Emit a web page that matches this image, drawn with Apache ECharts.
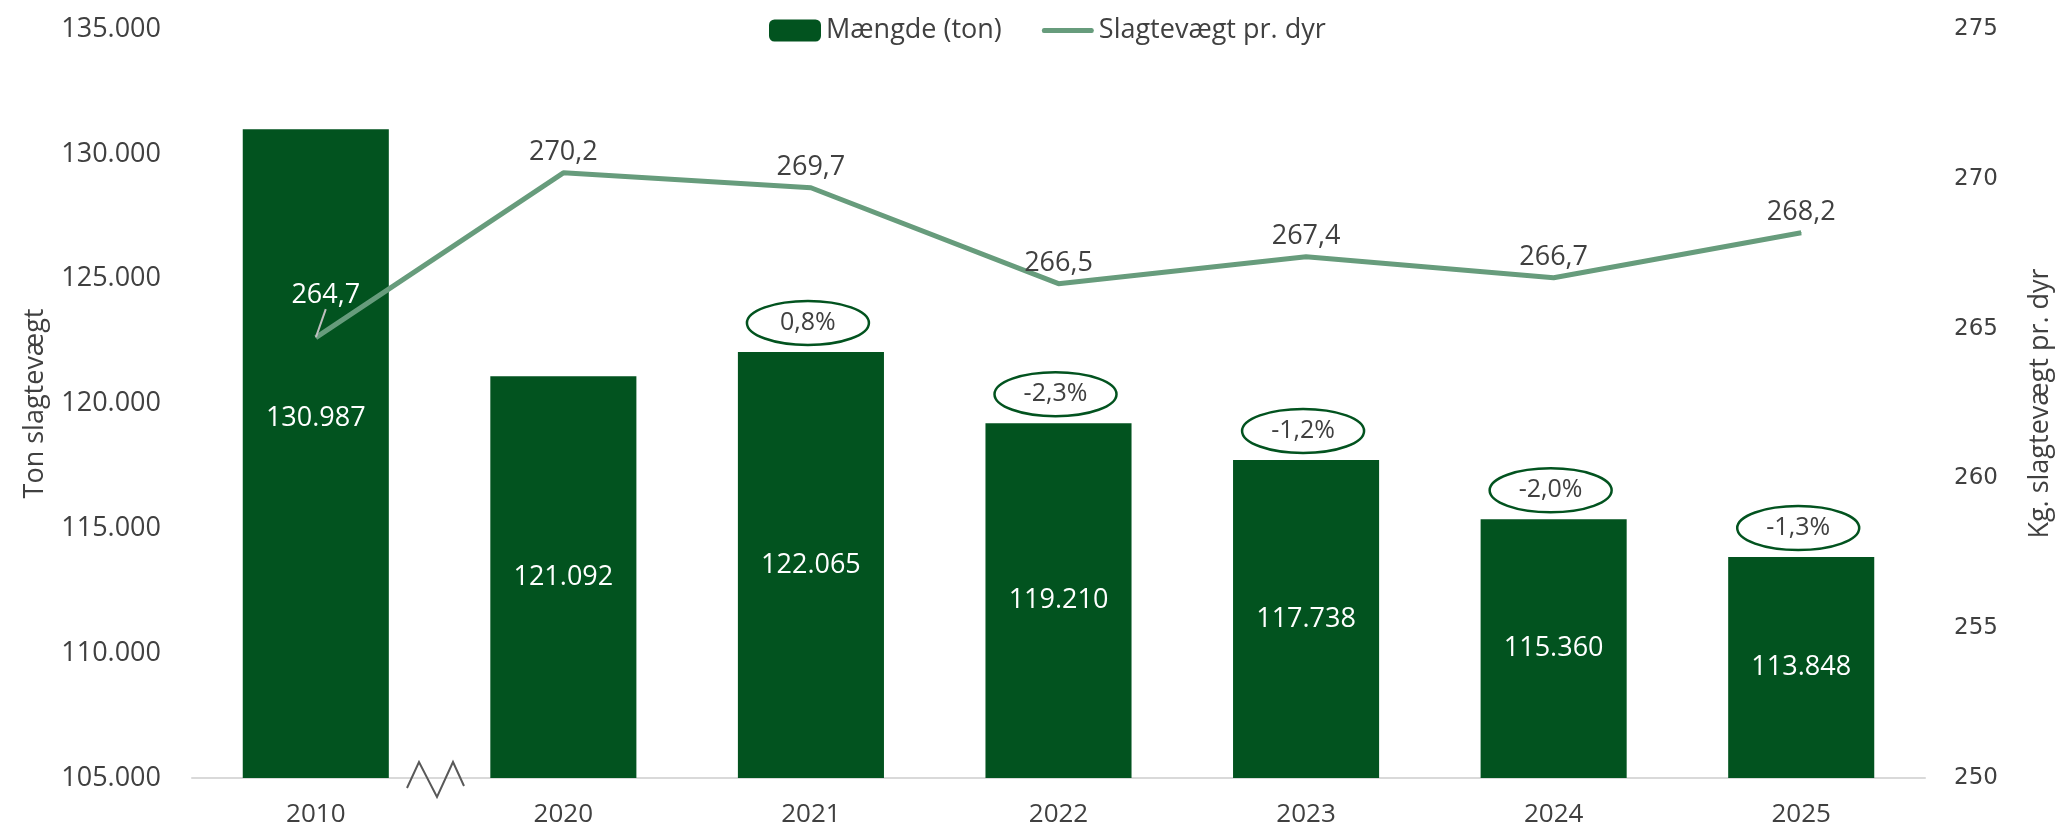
<!DOCTYPE html>
<html>
<head>
<meta charset="utf-8">
<style>
  html, body { margin: 0; padding: 0; background: #fff; }
  #chart { width: 2062px; height: 832px; }
</style>
<script src="https://cdn.jsdelivr.net/npm/echarts@6/dist/echarts.min.js"></script>
</head>
<body>
<div id="chart"></div>
<script>
const years = ['2010', '2020', '2021', '2022', '2023', '2024', '2025']
const tons = [130987, 121092, 122065, 119210, 117738, 115360, 113848]
const kgPerAnimal = [264.7, 270.2, 269.7, 266.5, 267.4, 266.7, 268.2]
const pctLabels = [null, null, '0,8%', '-2,3%', '-1,2%', '-2,0%', '-1,3%']

const darkGreen = '#02531f'
const lineGreen = '#679c7c'
const textGray = '#404040'
const font = '"Open Sans", "Noto Sans", sans-serif'

// thousand separator with dot, decimals with comma (Danish)
function fmtThousand(v)
{
  return String(Math.round(v)).replace(/\B(?=(\d{3})+(?!\d))/g, '.')
}
function fmtDecimal(v)
{
  return v.toFixed(1).replace('.', ',')
}

const chart = echarts.init(document.getElementById('chart'))

const option = {
  animation: false,
  textStyle: { fontFamily: font, color: textGray },
  legend: {
    left: 764,
    top: 12,
    itemWidth: 52,
    itemHeight: 22,
    itemGap: 40,
    textStyle: { fontSize: 27, color: textGray, fontFamily: font },
    data: [
      { name: 'Mængde (ton)' },
      { name: 'Slagtevægt pr. dyr', icon: 'path://M2,0 L50,0 Q52,0 52,2.5 Q52,5 50,5 L2,5 Q0,5 0,2.5 Q0,0 2,0 Z' }
    ]
  },
  grid: { left: 192, right: 125, top: 29, bottom: 54 },
  xAxis: {
    type: 'category',
    data: years,
    axisLine: { lineStyle: { color: '#d9d9d9', width: 2 } },
    axisTick: { show: false },
    axisLabel: { fontSize: 26, color: textGray, margin: 24, fontFamily: font }
  },
  yAxis: [
    {
      type: 'value',
      min: 105000,
      max: 135000,
      interval: 5000,
      name: 'Ton slagtevægt',
      nameLocation: 'middle',
      nameGap: 143,
      nameTextStyle: { fontSize: 27, color: textGray, fontFamily: font },
      splitLine: { show: false },
      axisLine: { show: false },
      axisTick: { show: false },
      axisLabel: { fontSize: 27, color: textGray, margin: 31, formatter: fmtThousand, fontFamily: font }
    },
    {
      type: 'value',
      min: 250,
      max: 275,
      interval: 5,
      name: 'Kg. slagtevægt pr. dyr',
      nameLocation: 'middle',
      nameGap: 102,
      nameRotate: 90,
      nameTextStyle: { fontSize: 27, color: textGray, fontFamily: font },
      splitLine: { show: false },
      axisLine: { show: false },
      axisTick: { show: false },
      axisLabel: { fontSize: 23, color: textGray, margin: 29, fontFamily: '"DejaVu Sans", sans-serif' }
    }
  ],
  series: [
    {
      name: 'Mængde (ton)',
      type: 'bar',
      barWidth: '59%',
      itemStyle: { color: darkGreen },
      data: tons.map((v, i) => ({
        value: v,
        label: i === 0 ? { offset: [0, -35] } : undefined
      })),
      label: {
        show: true,
        position: 'inside',
        color: '#fff',
        fontSize: 27,
        fontFamily: font,
        formatter: p => fmtThousand(p.value)
      },
      z: 2
    },
    {
      name: 'Slagtevægt pr. dyr',
      type: 'line',
      yAxisIndex: 1,
      symbol: 'circle',
      symbolSize: 1,
      showAllSymbol: true,
      lineStyle: { color: lineGreen, width: 5 },
      itemStyle: { color: lineGreen },
      data: kgPerAnimal.map((v, i) => (i === 0
        ? { value: v, label: { color: '#fff' }, labelLine: { show: true, lineStyle: { color: '#bfbfbf', width: 2 } } }
        : { value: v })),
      label: {
        show: true,
        position: 'top',
        distance: 6,
        fontSize: 27,
        color: textGray,
        fontFamily: font,
        formatter: p => fmtDecimal(p.value)
      },
      labelLine: { show: false },
      labelLayout: p => (p.dataIndex === 0 ? { dx: 10, dy: -22 } : {}),
      z: 4
    },
    {
      // ellipses with percent change above bars
      type: 'custom',
      yAxisIndex: 0,
      silent: true,
      z: 5,
      data: tons.map((v, i) => [i, v]).filter((d, i) => pctLabels[i] !== null),
      renderItem: function(params, api)
      {
        const idx = api.value(0)
        const p = api.coord([idx, api.value(1)])
        const cy = p[1] - 29
        return {
          type: 'group',
          children: [
            {
              type: 'ellipse',
              shape: { cx: p[0] - 3, cy: cy, rx: 61, ry: 22 },
              style: { fill: '#fff', stroke: darkGreen, lineWidth: 2.5 }
            },
            {
              type: 'text',
              style: {
                text: pctLabels[idx],
                x: p[0] - 3,
                y: cy,
                align: 'center',
                verticalAlign: 'middle',
                fill: textGray,
                font: '25px ' + font
              }
            }
          ]
        }
      }
    }
  ],
  graphic: [
    {
      // axis break mark between 2010 and 2020
      type: 'polyline',
      shape: { points: [[407, 788], [419, 762], [437, 797], [453, 762], [464, 786]] },
      style: { stroke: '#595959', lineWidth: 2, fill: null },
      z: 10
    }
  ]
}

chart.setOption(option)
</script>
</body>
</html>
